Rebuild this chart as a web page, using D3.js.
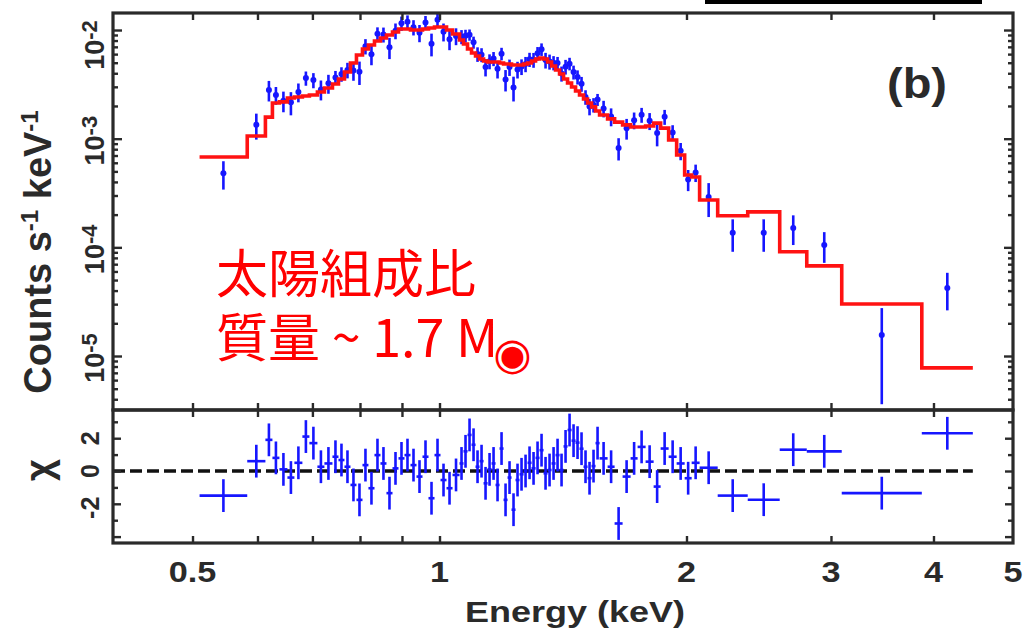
<!DOCTYPE html>
<html>
<head>
<meta charset="utf-8">
<script src="https://cdn.jsdelivr.net/npm/d3@7"></script>
<style>
  body { margin: 0; background: #fff; }
  svg { display: block; }
</style>
</head>
<body>
<svg id="chart" width="1029" height="635"></svg>
<script>
// ---- spectrum: bin edges (keV), counts s^-1 keV^-1, 1-sigma errors, model, residuals ----
const binEdges = [
  0.510, 0.583, 0.6135,
  0.6257, 0.6381, 0.6526, 0.6655, 0.6806, 0.6941, 0.7099, 0.7240,
  0.7405, 0.7531, 0.7659, 0.7789, 0.7921, 0.8056, 0.8192, 0.8332, 0.8473, 0.8617, 0.8764,
  0.8913, 0.9064, 0.9218, 0.9375, 0.9534, 0.9696, 0.9861, 1.0028, 1.0199, 1.0372,
  1.0578, 1.0697, 1.0818, 1.0941, 1.1064, 1.1189, 1.1316, 1.1443, 1.1573, 1.1703, 1.1835,
  1.1969, 1.2104, 1.2240, 1.2378, 1.2518, 1.2660, 1.2803, 1.2947, 1.3094, 1.3241, 1.3391,
  1.3542, 1.3695, 1.3850, 1.4006, 1.4164, 1.4324, 1.4486, 1.4649, 1.4814, 1.4981, 1.5150,
  1.5321, 1.5494,
  1.5671, 1.6028, 1.6346, 1.6717, 1.7097, 1.7436, 1.7832, 1.8238, 1.8600, 1.9022, 1.9455,
  1.9897, 2.0292,
  2.075, 2.183, 2.375, 2.598, 2.803, 3.092, 3.871, 4.467
];

const counts = [
  4.8e-4, 1.34e-3, 2.8e-3,
  2.52e-3, 2.23e-3, 2.16e-3, 2.69e-3, 3.61e-3, 3.46e-3, 2.84e-3, 3.23e-3,
  3.66e-3, 3.94e-3, 4.29e-3, 4.25e-3, 4.12e-3, 7.10e-3, 5.98e-3, 9.23e-3, 9.10e-3, 6.93e-3, 9.85e-3,
  1.155e-2, 1.189e-2, 1.061e-2, 9.42e-3, 1.172e-2, 7.49e-3, 1.242e-2, 9.66e-3, 8.22e-3, 8.81e-3,
  8.69e-3, 8.86e-3, 9.04e-3, 7.71e-3, 6.01e-3, 5.93e-3, 4.57e-3, 5.16e-3, 5.46e-3, 4.39e-3, 6.06e-3,
  3.50e-3, 4.56e-3, 2.96e-3, 4.34e-3, 4.61e-3, 4.87e-3, 5.37e-3, 5.32e-3, 6.10e-3, 6.65e-3, 5.29e-3,
  5.13e-3, 5.00e-3, 4.96e-3, 3.98e-3, 4.60e-3, 4.90e-3, 4.10e-3, 3.70e-3, 3.20e-3, 2.42e-3, 1.98e-3,
  2.05e-3, 2.29e-3,
  1.90e-3, 1.60e-3, 8.2e-4, 1.25e-3, 1.48e-3, 1.66e-3, 1.46e-3, 1.13e-3, 1.59e-3, 1.14e-3, 7.73e-4,
  4.22e-4, 4.88e-4,
  2.9e-4, 1.36e-4, 1.36e-4, 1.51e-4, 1.05e-4, 1.56e-5, 4.23e-5
];

const countErr = [
  1.4e-4, 3.6e-4, 6.0e-4,
  4.7e-4, 4.8e-4, 5.2e-4, 5.3e-4, 5.4e-4, 5.5e-4, 5.9e-4, 6.4e-4,
  5.4e-4, 6.0e-4, 7.0e-4, 8.4e-4, 1.0e-3, 1.14e-3, 1.24e-3, 1.35e-3, 1.43e-3, 1.53e-3, 1.63e-3,
  1.74e-3, 1.74e-3, 1.70e-3, 1.70e-3, 1.74e-3, 1.77e-3, 1.81e-3, 1.81e-3, 1.70e-3, 1.56e-3,
  1.29e-3, 1.19e-3, 1.07e-3, 9.8e-4, 9.2e-4, 8.7e-4, 8.3e-4, 8.1e-4, 8.1e-4, 8.1e-4, 8.0e-4,
  7.8e-4, 7.8e-4, 7.6e-4, 7.6e-4, 7.6e-4, 7.8e-4, 8.0e-4, 8.3e-4, 8.7e-4, 8.8e-4, 8.7e-4,
  8.1e-4, 7.5e-4, 6.9e-4, 6.3e-4, 7.1e-4, 6.5e-4, 6.0e-4, 5.5e-4, 5.0e-4, 3.7e-4, 3.4e-4,
  3.1e-4, 2.9e-4,
  3.3e-4, 3.0e-4, 1.9e-4, 2.7e-4, 2.6e-4, 2.6e-4, 2.6e-4, 2.8e-4, 2.5e-4, 1.9e-4, 1.4e-4,
  9.3e-5, 8.9e-5,
  1.0e-4, 4.5e-5, 4.5e-5, 4.6e-5, 3.3e-5, 1.2e-5, 1.6e-5
];

const model = [
  6.79e-4, 1.06e-3, 1.58e-3,
  2.13e-3, 2.18e-3, 2.37e-3, 2.42e-3, 2.47e-3, 2.52e-3, 2.69e-3, 2.93e-3,
  3.19e-3, 3.54e-3, 4.11e-3, 4.97e-3, 5.89e-3, 6.69e-3, 7.28e-3, 7.92e-3, 8.44e-3, 8.99e-3, 9.59e-3,
  1.021e-2, 1.021e-2, 1.0e-2, 1.0e-2, 1.021e-2, 1.043e-2, 1.066e-2, 1.066e-2, 1.0e-2, 9.19e-3,
  8.09e-3, 7.43e-3, 6.69e-3, 6.14e-3, 5.77e-3, 5.41e-3, 5.19e-3, 5.08e-3, 5.08e-3, 5.08e-3, 4.97e-3,
  4.87e-3, 4.87e-3, 4.76e-3, 4.76e-3, 4.76e-3, 4.87e-3, 4.97e-3, 5.19e-3, 5.41e-3, 5.53e-3, 5.41e-3,
  5.08e-3, 4.66e-3, 4.29e-3, 3.94e-3, 3.54e-3, 3.25e-3, 2.99e-3, 2.75e-3, 2.52e-3, 2.32e-3, 2.13e-3,
  1.96e-3, 1.80e-3,
  1.65e-3, 1.52e-3, 1.42e-3, 1.34e-3, 1.28e-3, 1.28e-3, 1.31e-3, 1.39e-3, 1.25e-3, 9.73e-4, 7.08e-4,
  4.63e-4, 4.44e-4,
  2.73e-4, 1.95e-4, 2.12e-4, 9.1e-5, 6.75e-5, 3.01e-5, 7.77e-6
];

const chi = [
  -1.5, 0.6, 1.9,
  0.8, 0.1, -0.4, 0.5, 2.1, 1.7, 0.26, 0.46,
  0.87, 0.67, 0.26, -0.85, -1.76, 0.36, -1.05, 0.97, 0.46, -1.35, 0.16,
  0.77, 0.97, 0.36, -0.34, 0.87, -1.66, 0.97, -0.55, -1.05, -0.24,
  0.46, 1.2, 2.2, 1.6, 0.26, 0.6, -0.75, 0.1, 0.46, -0.85, 1.37,
  -1.76, -0.4, -2.36, -0.55, -0.2, 0.0, 0.5, 0.16, 0.8, 1.27, -0.14,
  0.06, 0.46, 0.97, 0.06, 1.5, 2.5, 1.85, 1.73, 1.36, 0.26, -0.44,
  0.3, 1.7,
  0.77, 0.26, -3.2, -0.34, 0.77, 1.47, 0.57, -0.95, 1.37, 0.87, 0.46,
  -0.44, 0.5,
  0.2, -1.5, -1.75, 1.3, 1.2, -1.35, 2.3
];

// ---- axis ticks and labels ----
const xTickValues = [0.5, 0.6, 0.7, 0.8, 0.9, 1, 2, 3, 4];
const xTickLabels = [0.5, 1, 2, 3, 4, 5];
const yDecades = [-5, -4, -3, -2];
const chiTickValues = [-4, -3, -2, -1, 0, 1, 2, 3];
const chiTickLabels = [-2, 0, 2];

// ---- layout ----
const W = 1029, H = 635;
const L = 113, R = 1013, T = 13, MID = 410, B = 543;
const INK = "#2a2a2a";
const BLUE = "#1616ff";
const RED = "#ff1212";

const x = d3.scaleLog().domain([0.4, 5]).range([L, R]);
const y = d3.scaleLog().domain([3.185e-6, 1.434e-2]).range([MID, T]);
const yr = d3.scaleLinear().domain([-4.39, 3.72]).range([B, MID]);

const bins = counts.map((c, i) => ({
  lo: binEdges[i], hi: binEdges[i + 1],
  mid: Math.sqrt(binEdges[i] * binEdges[i + 1]),
  c, e: countErr[i], m: model[i], r: chi[i]
}));

const svg = d3.select("#chart");
svg.append("rect").attr("width", W).attr("height", H).attr("fill", "#fff");

const defs = svg.append("defs");
defs.append("clipPath").attr("id", "clipTop").append("rect")
  .attr("x", L).attr("y", T).attr("width", R - L).attr("height", MID - T);
defs.append("clipPath").attr("id", "clipBot").append("rect")
  .attr("x", L).attr("y", MID).attr("width", R - L).attr("height", B - MID);

// ---- upper panel: data with error bars, folded model ----
const upper = svg.append("g").attr("clip-path", "url(#clipTop)");

upper.append("g").selectAll("line").data(bins).join("line")
  .attr("x1", d => x(d.mid)).attr("x2", d => x(d.mid))
  .attr("y1", d => y(d.c + d.e))
  .attr("y2", d => y(Math.max(d.c - d.e, y.domain()[0])))
  .attr("stroke", BLUE).attr("stroke-width", 2.6);

upper.append("g").selectAll("circle").data(bins).join("circle")
  .attr("cx", d => x(d.mid)).attr("cy", d => y(d.c)).attr("r", 3)
  .attr("fill", BLUE);

const stepPts = bins.map(d => [x(d.lo), y(d.m)]);
stepPts.push([x(bins[bins.length - 1].hi), y(bins[bins.length - 1].m)]);
upper.append("path")
  .attr("d", d3.line().curve(d3.curveStepAfter)(stepPts))
  .attr("fill", "none").attr("stroke", RED).attr("stroke-width", 3.6);

// ---- lower panel: residuals ----
const lower = svg.append("g").attr("clip-path", "url(#clipBot)");

lower.append("line")
  .attr("x1", L).attr("x2", x(binEdges[binEdges.length - 1]))
  .attr("y1", yr(0)).attr("y2", yr(0))
  .attr("stroke", "#111").attr("stroke-width", 3.5)
  .attr("stroke-dasharray", "12,5");

const cross = lower.append("g").selectAll("g").data(bins).join("g");
cross.append("line")
  .attr("x1", d => x(d.lo)).attr("x2", d => x(d.hi))
  .attr("y1", d => yr(d.r)).attr("y2", d => yr(d.r))
  .attr("stroke", BLUE).attr("stroke-width", 2.6);
cross.append("line")
  .attr("x1", d => x(d.mid)).attr("x2", d => x(d.mid))
  .attr("y1", d => yr(d.r + 1)).attr("y2", d => yr(d.r - 1))
  .attr("stroke", BLUE).attr("stroke-width", 2.6);

// ---- ticks ----
function tickStyle(g) {
  g.select(".domain").remove();
  g.selectAll(".tick text").remove();
  g.selectAll(".tick line").attr("stroke", INK).attr("stroke-width", 2.4);
}

const majorY = yDecades.map(d => Math.pow(10, d));
const minorY = [];
for (let d = -6; d <= -2; d++) {
  for (let k = 2; k <= 9; k++) {
    const v = k * Math.pow(10, d);
    if (v > y.domain()[0] && v < y.domain()[1]) minorY.push(v);
  }
}
svg.append("g").attr("transform", `translate(${L},0)`)
  .call(d3.axisRight(y).tickValues(majorY).tickSize(9)).call(tickStyle);
svg.append("g").attr("transform", `translate(${L},0)`)
  .call(d3.axisRight(y).tickValues(minorY).tickSize(5)).call(tickStyle);
svg.append("g").attr("transform", `translate(${R},0)`)
  .call(d3.axisLeft(y).tickValues(majorY).tickSize(9)).call(tickStyle);
svg.append("g").attr("transform", `translate(${R},0)`)
  .call(d3.axisLeft(y).tickValues(minorY).tickSize(5)).call(tickStyle);

const chiMajor = chiTickValues.filter(v => v % 2 === 0);
const chiMinor = chiTickValues.filter(v => v % 2 !== 0);
svg.append("g").attr("transform", `translate(${L},0)`)
  .call(d3.axisRight(yr).tickValues(chiMajor).tickSize(8)).call(tickStyle);
svg.append("g").attr("transform", `translate(${L},0)`)
  .call(d3.axisRight(yr).tickValues(chiMinor).tickSize(5)).call(tickStyle);
svg.append("g").attr("transform", `translate(${R},0)`)
  .call(d3.axisLeft(yr).tickValues(chiMajor).tickSize(8)).call(tickStyle);
svg.append("g").attr("transform", `translate(${R},0)`)
  .call(d3.axisLeft(yr).tickValues(chiMinor).tickSize(5)).call(tickStyle);

svg.append("g").attr("transform", `translate(0,${T})`)
  .call(d3.axisBottom(x).tickValues(xTickValues).tickSize(7)).call(tickStyle);
svg.append("g").attr("transform", `translate(0,${MID})`)
  .call(d3.axisTop(x).tickValues(xTickValues).tickSize(7)).call(tickStyle);
svg.append("g").attr("transform", `translate(0,${MID})`)
  .call(d3.axisBottom(x).tickValues(xTickValues).tickSize(7)).call(tickStyle);
svg.append("g").attr("transform", `translate(0,${B})`)
  .call(d3.axisTop(x).tickValues(xTickValues).tickSize(7)).call(tickStyle);

// ---- frames ----
svg.append("rect").attr("x", L).attr("y", T).attr("width", R - L).attr("height", MID - T)
  .attr("fill", "none").attr("stroke", INK).attr("stroke-width", 3.2);
svg.append("rect").attr("x", L).attr("y", MID).attr("width", R - L).attr("height", B - MID)
  .attr("fill", "none").attr("stroke", INK).attr("stroke-width", 3.2);

// ---- labels ----
const FONT = "'Liberation Sans', Arial, sans-serif";

// bottom energy labels (slightly wide lettering)
svg.append("g").selectAll("text").data(xTickLabels).join("text")
  .attr("transform", d => `translate(${x(d)},582) scale(1.18,1)`)
  .attr("text-anchor", "middle")
  .attr("font-family", FONT).attr("font-weight", "bold").attr("font-size", 29)
  .attr("fill", INK)
  .text(d => d);

svg.append("text")
  .attr("transform", `translate(575,622) scale(1.2,1)`)
  .attr("text-anchor", "middle")
  .attr("font-family", FONT).attr("font-weight", "bold").attr("font-size", 30)
  .attr("fill", INK)
  .text("Energy (keV)");

// decade labels, rotated
const decLab = svg.append("g").selectAll("text").data(yDecades).join("text")
  .attr("transform", d => `translate(104,${d === -2 ? 45 : y(Math.pow(10, d)) + 2}) rotate(-90)`)
  .attr("text-anchor", "middle")
  .attr("font-family", FONT).attr("font-weight", "bold").attr("font-size", 27)
  .attr("fill", INK);
decLab.append("tspan").text("10");
decLab.append("tspan").attr("dy", -7).attr("font-size", 22).text(d => d);

// residual labels, rotated
svg.append("g").selectAll("text").data(chiTickLabels).join("text")
  .attr("transform", d => `translate(99,${yr(d) + (d < 0 ? 4 : 0)}) rotate(-90)`)
  .attr("text-anchor", "middle")
  .attr("font-family", FONT).attr("font-weight", "bold").attr("font-size", 25)
  .attr("fill", INK)
  .text(d => d);

// axis titles
const yTitle = svg.append("text")
  .attr("transform", "translate(51,252) rotate(-90)")
  .attr("text-anchor", "middle")
  .attr("font-family", FONT).attr("font-weight", "bold").attr("font-size", 38)
  .attr("fill", INK);
yTitle.append("tspan").text("Counts s");
yTitle.append("tspan").attr("dy", -13).attr("font-size", 24).text("-1");
yTitle.append("tspan").attr("dy", 13).text(" keV");
yTitle.append("tspan").attr("dy", -13).attr("font-size", 24).text("-1");

svg.append("text")
  .attr("transform", "translate(52,470) rotate(-90)")
  .attr("text-anchor", "middle")
  .attr("font-family", FONT).attr("font-weight", "bold").attr("font-size", 38)
  .attr("fill", INK)
  .text("χ");

svg.append("text")
  .attr("transform", "translate(917,98) scale(1.12,1)")
  .attr("text-anchor", "middle")
  .attr("font-family", FONT).attr("font-weight", "bold").attr("font-size", 42)
  .attr("fill", INK)
  .text("(b)");

// annotation: solar abundance, mass ~1.7 solar masses
const JP = "'Noto Sans CJK JP', 'Noto Sans CJK SC', sans-serif";
const note = svg.append("text")
  .attr("font-family", JP).attr("font-size", 52).attr("fill", "#ff0000");
note.append("tspan").attr("x", 216).attr("y", 293).text("太陽組成比");
note.append("tspan").attr("x", 216).attr("y", 357).text("質量 ~ 1.7 M");
note.append("tspan")
  .attr("dx", -5).attr("dy", 12)
  .attr("font-family", "'DejaVu Sans', sans-serif").attr("font-size", 44)
  .text("◉");

// black rule along the top edge
svg.append("rect").attr("x", 705).attr("y", 0).attr("width", 277).attr("height", 4).attr("fill", "#000");
</script>
</body>
</html>
